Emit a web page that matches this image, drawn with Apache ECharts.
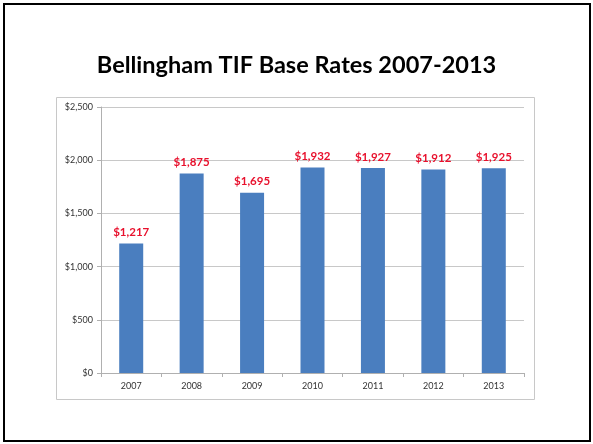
<!DOCTYPE html>
<html><head><meta charset="utf-8">
<script src="https://cdn.jsdelivr.net/npm/echarts@6/dist/echarts.min.js"></script>
<style>html,body{margin:0;padding:0;background:#fff}#c{width:593px;height:444px}</style>
</head><body><div id="c"></div>
<script>
const categories = ['2007','2008','2009','2010','2011','2012','2013'];
const values = [1217, 1875, 1695, 1932, 1927, 1912, 1925];
const titleText = 'Bellingham TIF Base Rates 2007-2013';
const yMin = 0, yMax = 2500, yStep = 500;

const fmt = v => '$' + v.toLocaleString('en-US');
const chart = echarts.init(document.getElementById('c'), null, {renderer:'canvas'});
chart.setOption({
  animation: false,
  backgroundColor: '#fff',
  title: {
    text: titleText, left: 'center', top: 48,
    textStyle: {fontFamily: 'Lato', fontWeight: 'bold', fontSize: 23.5, color: '#000'}
  },
  graphic: [
    {type:'rect', shape:{x:4, y:4, width:586, height:437}, style:{fill:'none', stroke:'#000', lineWidth:2}, z:-1},
    {type:'rect', shape:{x:56.5, y:97.5, width:478, height:302}, style:{fill:'none', stroke:'#c8c8c8', lineWidth:1}, z:-1}
  ],
  grid: {left: 101, right: 69, top: 107, bottom: 71},
  xAxis: {
    type: 'category', data: categories,
    axisLine: {lineStyle: {color: '#b0b0b0'}},
    axisTick: {show: true, length: 4, lineStyle: {color: '#b0b0b0'}},
    axisLabel: {fontFamily: 'Lato', fontSize: 9, color: '#333', margin: 9}
  },
  yAxis: {
    type: 'value', min: yMin, max: yMax, interval: yStep,
    axisLine: {show: true, lineStyle: {color: '#b0b0b0'}},
    axisTick: {show: true, length: 4, lineStyle: {color: '#b0b0b0'}},
    splitLine: {lineStyle: {color: '#c8c8c8'}},
    axisLabel: {fontFamily: 'Lato', fontSize: 9, color: '#333', margin: 8, formatter: fmt}
  },
  series: [{
    type: 'bar', data: values, barWidth: 24,
    itemStyle: {color: '#4a7ebf'},
    label: {show: true, position: 'top', distance: 5, formatter: p => fmt(p.value),
      fontFamily: 'Lato', fontWeight: 'bold', fontSize: 11.5, color: '#e8112d'}
  }]
});
</script></body></html>
